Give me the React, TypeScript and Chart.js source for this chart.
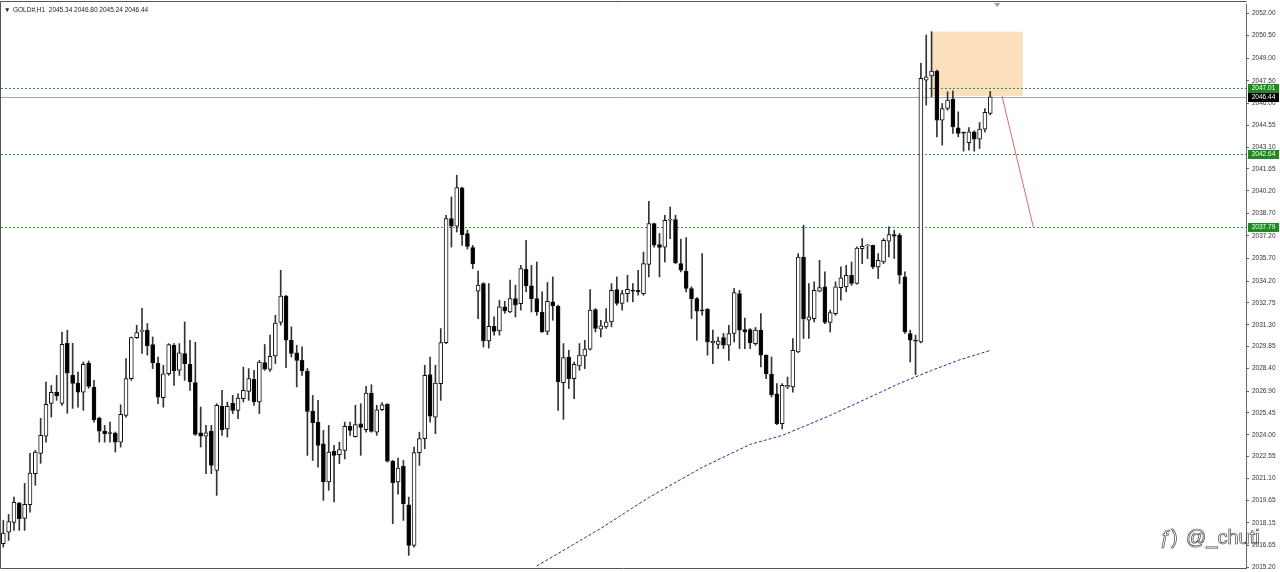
import React, { useEffect, useRef } from 'react';
import { Chart, registerables } from 'chart.js';

Chart.register(...registerables);

const chartTitle = 'GOLD#,H1  2045.34 2046.80 2045.24 2046.44';

const opens = [
  2016.76, 2017.53, 2018.18, 2019.46, 2018.44, 2019.35, 2021.41, 2022.76, 2023.91, 2026.08,
  2026.81, 2026.08, 2030.07, 2027.94, 2027.43, 2026.83, 2028.76, 2027.17, 2025.10, 2024.24,
  2024.11, 2024.11, 2023.51, 2025.28, 2027.72, 2030.45, 2030.86, 2030.94, 2029.99, 2028.76,
  2026.46, 2028.05, 2029.94, 2028.28, 2029.39, 2028.68, 2027.46, 2024.13, 2023.91, 2024.24,
  2021.63, 2025.90, 2024.39, 2026.10, 2025.62, 2026.39, 2026.88, 2027.68, 2026.17, 2028.79,
  2028.33, 2029.23, 2031.45, 2033.20, 2030.27, 2029.43, 2028.94, 2028.23, 2025.57, 2024.84,
  2023.40, 2020.86, 2022.89, 2022.67, 2022.96, 2024.55, 2023.87, 2024.73, 2024.33, 2026.76,
  2024.17, 2025.66, 2026.01, 2022.25, 2020.86, 2021.90, 2019.35, 2016.65, 2022.81, 2023.74,
  2027.99, 2025.17, 2027.39, 2030.12, 2038.35, 2037.84, 2040.39, 2037.36, 2036.42, 2033.53,
  2034.04, 2030.22, 2031.19, 2030.89, 2032.49, 2032.15, 2033.04, 2032.71, 2034.99, 2033.88,
  2033.04, 2032.15, 2030.86, 2032.82, 2032.53, 2027.46, 2029.16, 2027.72, 2028.56, 2029.23,
  2029.68, 2032.31, 2031.01, 2031.16, 2031.49, 2033.64, 2032.71, 2033.37, 2033.59, 2033.59,
  2033.37, 2035.30, 2038.02, 2036.63, 2036.46, 2038.24, 2038.28, 2035.36, 2034.86, 2033.71,
  2033.04, 2032.27, 2032.33, 2030.10, 2029.99, 2030.45, 2029.94, 2030.72, 2033.37, 2030.98,
  2030.98, 2030.05, 2030.94, 2029.28, 2028.01, 2026.72, 2024.73, 2027.17, 2027.17, 2029.49,
  2035.80, 2031.60, 2031.71, 2033.53, 2033.82, 2031.45, 2032.04, 2033.77, 2033.81, 2034.59,
  2034.04, 2036.36, 2036.54, 2036.58, 2035.14, 2035.47, 2036.85, 2037.29, 2037.24, 2034.48,
  2030.72, 2030.27, 2030.16, 2047.55, 2047.83, 2048.14, 2044.89, 2045.66, 2046.28, 2044.38,
  2044.07, 2043.39, 2044.11, 2043.62, 2044.29, 2045.34,
];

const highs = [
  2018.31, 2018.71, 2019.86, 2019.51, 2020.77, 2022.76, 2022.96, 2025.09, 2027.50, 2027.28,
  2027.94, 2030.82, 2030.94, 2030.07, 2028.16, 2028.83, 2028.90, 2027.61, 2025.17, 2024.62,
  2024.84, 2024.18, 2025.99, 2029.05, 2030.49, 2031.27, 2032.40, 2031.38, 2030.49, 2029.16,
  2028.61, 2030.05, 2030.05, 2030.05, 2031.49, 2030.27, 2030.14, 2025.84, 2024.62, 2024.62,
  2026.06, 2026.94, 2026.17, 2026.61, 2026.72, 2028.49, 2028.39, 2028.28, 2028.94, 2029.99,
  2030.61, 2031.93, 2034.92, 2033.26, 2031.16, 2029.94, 2029.83, 2028.39, 2026.61, 2026.28,
  2024.29, 2024.62, 2023.29, 2023.51, 2024.84, 2024.84, 2025.95, 2026.06, 2027.21, 2027.32,
  2025.95, 2026.13, 2026.06, 2022.29, 2022.45, 2022.29, 2019.86, 2023.18, 2024.17, 2028.61,
  2029.16, 2028.61, 2031.05, 2038.57, 2039.79, 2041.23, 2040.45, 2037.58, 2036.57, 2034.86,
  2034.10, 2034.04, 2031.82, 2032.93, 2032.86, 2034.26, 2033.93, 2035.25, 2036.91, 2035.25,
  2035.47, 2033.48, 2034.11, 2034.48, 2032.60, 2030.05, 2029.61, 2028.83, 2030.05, 2030.27,
  2033.64, 2032.38, 2031.60, 2032.38, 2034.04, 2034.48, 2033.59, 2034.59, 2034.04, 2034.92,
  2036.13, 2039.50, 2038.06, 2037.36, 2038.57, 2039.12, 2038.57, 2036.98, 2037.09, 2033.82,
  2033.11, 2036.03, 2032.38, 2030.94, 2030.49, 2030.72, 2031.27, 2033.71, 2033.59, 2031.75,
  2031.05, 2031.12, 2032.04, 2029.30, 2029.16, 2027.39, 2027.39, 2027.83, 2030.39, 2036.03,
  2037.91, 2034.04, 2034.15, 2035.58, 2034.81, 2032.27, 2034.15, 2035.14, 2035.25, 2035.47,
  2036.47, 2037.03, 2036.63, 2036.60, 2036.03, 2037.02, 2037.80, 2037.58, 2037.36, 2034.81,
  2030.94, 2030.61, 2048.66, 2050.54, 2050.76, 2048.21, 2045.99, 2046.77, 2046.84, 2045.44,
  2044.09, 2044.39, 2044.18, 2044.73, 2045.66, 2046.80,
];

const lows = [
  2016.54, 2016.98, 2017.65, 2017.65, 2017.65, 2018.86, 2020.64, 2022.10, 2023.51, 2025.17,
  2026.28, 2025.95, 2025.42, 2025.75, 2025.83, 2025.62, 2027.08, 2024.84, 2023.51, 2023.51,
  2023.51, 2022.85, 2023.18, 2025.17, 2027.61, 2030.39, 2029.39, 2029.28, 2028.39, 2026.06,
  2025.83, 2027.94, 2027.28, 2027.94, 2027.61, 2026.94, 2023.96, 2023.18, 2021.41, 2021.41,
  2019.97, 2023.96, 2023.84, 2025.40, 2025.06, 2026.17, 2026.28, 2025.95, 2025.40, 2028.28,
  2028.21, 2028.72, 2031.27, 2028.45, 2029.16, 2027.17, 2027.94, 2022.63, 2022.29, 2021.85,
  2019.64, 2020.31, 2019.53, 2022.08, 2022.39, 2023.96, 2023.84, 2022.63, 2024.17, 2024.17,
  2023.96, 2025.62, 2022.18, 2018.09, 2020.06, 2018.31, 2015.99, 2016.54, 2021.96, 2023.07,
  2024.84, 2024.07, 2026.28, 2030.05, 2036.46, 2037.46, 2036.57, 2036.33, 2035.03, 2031.71,
  2029.82, 2029.75, 2030.61, 2030.61, 2032.06, 2032.11, 2031.82, 2032.27, 2033.48, 2032.15,
  2031.93, 2030.80, 2030.65, 2031.60, 2025.62, 2025.02, 2027.06, 2026.39, 2028.28, 2028.39,
  2029.61, 2030.82, 2030.49, 2031.05, 2031.16, 2032.60, 2032.27, 2032.82, 2032.82, 2033.26,
  2033.26, 2034.48, 2036.46, 2034.48, 2035.47, 2037.02, 2035.36, 2034.81, 2033.48, 2031.71,
  2030.27, 2031.93, 2029.28, 2028.72, 2029.72, 2029.72, 2028.94, 2030.16, 2029.72, 2029.72,
  2029.72, 2029.94, 2028.50, 2027.72, 2026.50, 2024.66, 2024.39, 2027.06, 2026.83, 2029.45,
  2030.39, 2030.39, 2031.49, 2033.48, 2031.38, 2030.82, 2031.93, 2032.93, 2033.48, 2033.92,
  2033.99, 2035.36, 2035.70, 2035.03, 2034.37, 2035.36, 2035.80, 2035.70, 2034.04, 2030.72,
  2028.83, 2027.99, 2030.10, 2045.89, 2046.44, 2043.78, 2043.23, 2045.55, 2044.01, 2043.78,
  2042.83, 2042.90, 2042.83, 2043.01, 2044.11, 2045.24,
];

const closes = [
  2017.47, 2018.24, 2019.51, 2018.42, 2019.37, 2021.45, 2022.85, 2023.96, 2026.01, 2026.81,
  2026.57, 2030.01, 2028.08, 2027.41, 2026.83, 2028.68, 2027.21, 2025.00, 2024.24, 2024.07,
  2024.08, 2023.51, 2025.35, 2027.72, 2030.45, 2030.78, 2030.90, 2029.89, 2028.76, 2026.50,
  2028.05, 2029.99, 2028.23, 2029.43, 2028.72, 2027.50, 2024.02, 2023.91, 2024.13, 2021.96,
  2025.95, 2024.33, 2025.88, 2025.62, 2026.43, 2026.94, 2027.72, 2026.17, 2028.83, 2028.35,
  2029.21, 2031.42, 2033.20, 2030.27, 2029.39, 2028.94, 2028.23, 2025.55, 2024.80, 2023.29,
  2020.86, 2022.85, 2022.63, 2023.02, 2024.55, 2024.29, 2024.67, 2024.49, 2026.76, 2024.22,
  2025.66, 2025.99, 2022.25, 2020.82, 2021.79, 2019.42, 2016.65, 2022.81, 2023.74, 2027.94,
  2025.23, 2027.43, 2030.12, 2038.35, 2037.84, 2040.41, 2037.29, 2036.51, 2035.36, 2033.93,
  2030.22, 2031.19, 2030.86, 2032.49, 2032.22, 2033.04, 2032.60, 2035.04, 2033.88, 2033.04,
  2032.15, 2030.82, 2032.86, 2032.55, 2027.50, 2029.12, 2027.72, 2028.68, 2029.28, 2029.68,
  2032.27, 2031.05, 2031.23, 2031.49, 2033.59, 2032.71, 2033.37, 2033.66, 2033.53, 2033.48,
  2035.36, 2038.02, 2036.58, 2036.43, 2038.24, 2038.28, 2035.40, 2034.92, 2033.71, 2033.04,
  2032.20, 2032.22, 2030.16, 2030.21, 2030.21, 2029.94, 2030.72, 2033.44, 2030.94, 2030.82,
  2030.12, 2030.94, 2029.28, 2028.06, 2026.66, 2024.73, 2027.28, 2027.28, 2029.61, 2035.80,
  2031.71, 2031.82, 2033.59, 2033.77, 2031.45, 2032.11, 2033.82, 2034.41, 2034.59, 2034.04,
  2036.40, 2036.51, 2036.58, 2035.14, 2035.58, 2036.91, 2037.29, 2037.18, 2034.59, 2030.82,
  2030.27, 2030.21, 2047.66, 2047.77, 2048.14, 2044.89, 2045.66, 2046.22, 2044.45, 2044.01,
  2044.03, 2044.11, 2043.62, 2044.29, 2045.40, 2046.44,
];

// moving average (blue dotted) read at selected bars
const maBars = [100, 112, 121, 131, 140, 146, 155, 164, 168, 174, 179, 185];
const maValues = [2015.28, 2017.78, 2019.83, 2021.83, 2023.36, 2023.95, 2025.28, 2026.75, 2027.41, 2028.27, 2028.94, 2029.60];

const priceTicks = [
  2052.0, 2050.5, 2049.0, 2047.5, 2046.0, 2044.55, 2043.1, 2041.65, 2040.2, 2038.7,
  2037.2, 2035.7, 2034.2, 2032.75, 2031.3, 2029.85, 2028.4, 2026.9, 2025.45, 2024.0,
  2022.55, 2021.1, 2019.65, 2018.15, 2016.65, 2015.2,
];

const levelPrices = [2047.01, 2042.64, 2037.79];
const lastPrice = 2046.44;

// supply zone (bar range / price range)
const zoneBars = [174, 191.1];
const zonePrices = [2050.76, 2046.5];
// projected move line (bar, price) start -> end
const arrowBars = [187.2, 193.1];
const arrowPrices = [2046.5, 2037.75];
const shiftMarkerBar = 186.3;

const watermarkIcon = 'ƒ)';
const watermark = '@_chuti';

const overlayPlugin = {
  id: 'mtOverlay',
  beforeDatasetsDraw(chart: any) {
    const { ctx, chartArea: a, scales } = chart;
    const x = scales.x;
    const y = scales.y;
    ctx.save();
    ctx.beginPath();
    ctx.rect(a.left, a.top, a.right - a.left, a.bottom - a.top);
    ctx.clip();
    const zx1 = x.getPixelForValue(zoneBars[0]);
    const zx2 = x.getPixelForValue(zoneBars[1]);
    const zy1 = y.getPixelForValue(zonePrices[0]);
    const zy2 = y.getPixelForValue(zonePrices[1]);
    ctx.fillStyle = '#fcdfbc';
    ctx.fillRect(zx1, zy1, zx2 - zx1, zy2 - zy1);
    const ly = Math.round(y.getPixelForValue(lastPrice)) + 0.5;
    ctx.strokeStyle = '#a8a8a8';
    ctx.lineWidth = 1;
    ctx.beginPath();
    ctx.moveTo(a.left, ly);
    ctx.lineTo(a.right, ly);
    ctx.stroke();
    ctx.strokeStyle = '#2f9a2f';
    ctx.setLineDash([2, 2]);
    levelPrices.forEach((p) => {
      const py = Math.round(y.getPixelForValue(p)) + 0.5;
      ctx.beginPath();
      ctx.moveTo(a.left, py);
      ctx.lineTo(a.right, py);
      ctx.stroke();
    });
    ctx.restore();
  },
  afterDatasetsDraw(chart: any) {
    const { ctx, scales } = chart;
    const x = scales.x;
    const y = scales.y;
    ctx.save();
    ctx.strokeStyle = '#e0647a';
    ctx.lineWidth = 1;
    ctx.beginPath();
    ctx.moveTo(x.getPixelForValue(arrowBars[0]), y.getPixelForValue(arrowPrices[0]));
    ctx.lineTo(x.getPixelForValue(arrowBars[1]), y.getPixelForValue(arrowPrices[1]));
    ctx.stroke();
    ctx.restore();
  },
  afterDraw(chart: any) {
    const { ctx, chartArea: a, scales } = chart;
    const x = scales.x;
    const y = scales.y;
    ctx.save();
    // frame
    ctx.strokeStyle = '#555';
    ctx.lineWidth = 1;
    ctx.beginPath();
    ctx.moveTo(a.right + 0.5, 1.5);
    ctx.lineTo(0.5, 1.5);
    ctx.lineTo(0.5, a.bottom + 0.5);
    ctx.lineTo(a.right + 0.5, a.bottom + 0.5);
    ctx.stroke();
    // shift marker
    const mx = x.getPixelForValue(shiftMarkerBar);
    ctx.fillStyle = '#999';
    ctx.beginPath();
    ctx.moveTo(mx - 3, 3);
    ctx.lineTo(mx + 3, 3);
    ctx.lineTo(mx, 7);
    ctx.closePath();
    ctx.fill();
    // title
    ctx.font = '6.5px "Liberation Sans", sans-serif';
    ctx.fillStyle = '#222';
    ctx.textBaseline = 'middle';
    ctx.textAlign = 'left';
    ctx.fillText('▼', 4, 10);
    ctx.fillText(chartTitle, 13, 10);
    // price boxes
    const box = (p: number, bg: string) => {
      const py = Math.round(y.getPixelForValue(p));
      ctx.fillStyle = bg;
      ctx.fillRect(a.right + 2, py - 4, 31, 9);
      ctx.fillStyle = '#fff';
      ctx.textAlign = 'center';
      ctx.fillText(p.toFixed(2), a.right + 17.5, py + 0.5);
    };
    levelPrices.forEach((p) => box(p, '#1f8a1f'));
    box(lastPrice, '#000');
    // watermark
    ctx.font = '20px "Liberation Sans", sans-serif';
    ctx.textAlign = 'left';
    ctx.textBaseline = 'alphabetic';
    ctx.strokeStyle = '#444';
    ctx.lineWidth = 0.7;
    ctx.strokeText(watermarkIcon, 1160, 544);
    ctx.strokeText(watermark, 1186, 544);
    ctx.restore();
  },
};

export default function App() {
  const canvasRef = useRef<HTMLCanvasElement | null>(null);

  useEffect(() => {
    document.body.style.margin = '0';
    const canvas = canvasRef.current;
    if (!canvas) return;
    const bull = opens.map((o, i) => closes[i] >= o);
    const bodyData = opens.map((o, i) => ({ x: i, y: [o, closes[i]] }));
    const wickData = lows.map((l, i) => ({ x: i, y: [l, highs[i]] }));
    const maData = maBars.map((b, k) => ({ x: b, y: maValues[k] }));

    const chart = new Chart(canvas, {
      type: 'bar',
      data: {
        datasets: [
          {
            type: 'line',
            data: maData,
            borderColor: '#2a2aa8',
            borderWidth: 1,
            borderDash: [3, 2],
            pointRadius: 0,
            tension: 0,
            order: 0,
          } as any,
          {
            type: 'bar',
            data: bodyData as any,
            backgroundColor: bull.map((b) => (b ? '#ffffff' : '#000000')),
            borderColor: '#111',
            borderWidth: 1,
            borderSkipped: false,
            barThickness: 4,
            minBarLength: 1,
            grouped: false,
            order: 1,
          } as any,
          {
            type: 'bar',
            data: wickData as any,
            backgroundColor: '#333',
            borderWidth: 0,
            barThickness: 1,
            grouped: false,
            order: 2,
          } as any,
        ],
      },
      options: {
        animation: false,
        responsive: false,
        maintainAspectRatio: false,
        layout: { padding: { left: 1, top: 4, right: 0, bottom: 4 } },
        plugins: { legend: { display: false }, tooltip: { enabled: false } },
        scales: {
          x: {
            type: 'linear',
            min: -0.43,
            max: 232.94,
            display: false,
            offset: false,
            grid: { display: false },
          },
          y: {
            type: 'linear',
            position: 'right',
            min: 2015.15,
            max: 2052.6,
            afterBuildTicks: (s: any) => {
              s.ticks = priceTicks.map((v) => ({ value: v }));
            },
            afterFit: (s: any) => {
              s.width = 34;
              s.paddingTop = 0;
              s.paddingBottom = 0;
            },
            ticks: {
              autoSkip: false,
              padding: 3,
              color: '#333',
              font: { size: 6.5, family: '"Liberation Sans", sans-serif' },
              callback: (v: any) => Number(v).toFixed(2),
            },
            grid: { drawOnChartArea: false, tickLength: 3, color: '#666' },
            border: { display: true, color: '#666' },
          },
        },
      } as any,
      plugins: [overlayPlugin],
    });
    return () => chart.destroy();
  }, []);

  return (
    <div style={{ width: 1280, height: 572, background: '#fff' }}>
      <canvas ref={canvasRef} width={1280} height={572} style={{ display: 'block' }} />
    </div>
  );
}
